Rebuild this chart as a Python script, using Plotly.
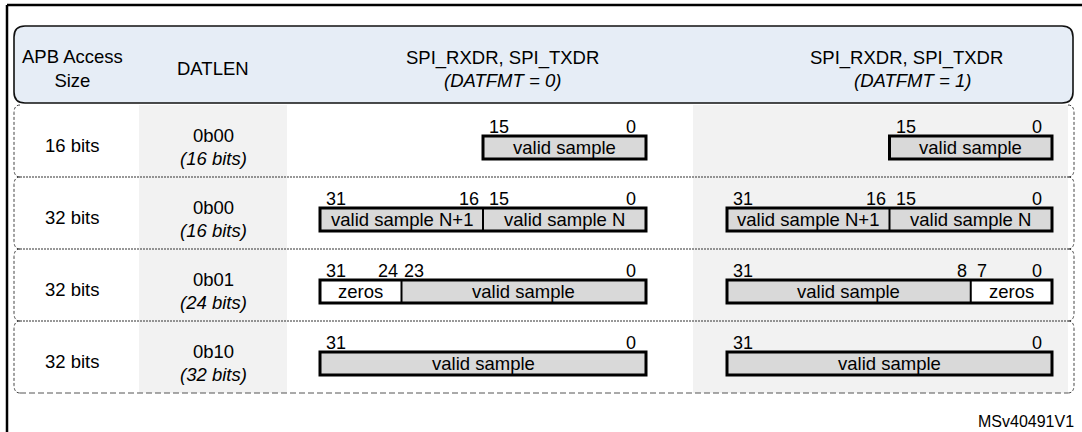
import plotly.graph_objects as go

# ---------------- data ----------------
access_sizes = ["16 bits", "32 bits", "32 bits", "32 bits"]
datlen_codes = ["0b00", "0b00", "0b01", "0b10"]
datlen_bits = ["(16 bits)", "(16 bits)", "(24 bits)", "(32 bits)"]

header_cols = ["APB Access<br>Size", "DATLEN"]
reg_title = "SPI_RXDR, SPI_TXDR"
fmt_titles = ["(DATFMT = 0)", "(DATFMT = 1)"]

# segments per row: (high bit, low bit, label)
fmt0_segments = [
    [(15, 0, "valid sample")],
    [(31, 16, "valid sample N+1"), (15, 0, "valid sample N")],
    [(31, 24, "zeros"), (23, 0, "valid sample")],
    [(31, 0, "valid sample")],
]
fmt1_segments = [
    [(15, 0, "valid sample")],
    [(31, 16, "valid sample N+1"), (15, 0, "valid sample N")],
    [(31, 8, "valid sample"), (7, 0, "zeros")],
    [(31, 0, "valid sample")],
]
doc_ref = "MSv40491V1"

# ---------------- layout constants ----------------
W, H = 1082, 432
FONT = "Liberation Sans, Arial, sans-serif"
FS = 18.5
row_top0, row_h = 105, 72
n_rows = len(access_sizes)
box_off, box_h = 31, 23
reg_cols = [(320, 646), (727, 1052)]
reg_centers = [502, 906]
col_access_x, col_datlen_x = 72, 213
fill_valid, fill_zero = "#D9D9D9", "#FFFFFF"
gray_bg = "#F2F2F2"
header_fill = "#E6EDF6"

fig = go.Figure()
shapes = []
ann = []


def text(x, y, s, size=FS, xanchor="center", yanchor="middle", align="center"):
    ann.append(dict(x=x, y=y, xref="x", yref="y", text=s, showarrow=False,
                    xanchor=xanchor, yanchor=yanchor, align=align,
                    font=dict(family=FONT, size=size, color="#000000")))


# outer frame (partial)
shapes.append(dict(type="line", x0=7, x1=W, y0=5, y1=5, line=dict(color="black", width=2.5)))
shapes.append(dict(type="line", x0=7, x1=7, y0=5, y1=H, line=dict(color="black", width=2.5)))

# gray column backgrounds
body_top = row_top0
body_bot = row_top0 + n_rows * row_h
shapes.append(dict(type="rect", x0=139, x1=287, y0=body_top, y1=body_bot,
                   fillcolor=gray_bg, line=dict(width=0), layer="below"))
shapes.append(dict(type="rect", x0=693, x1=1068, y0=body_top, y1=body_bot,
                   fillcolor=gray_bg, line=dict(width=0), layer="below"))

# header rounded box
hx0, hx1, hy0, hy1, r = 14, 1073, 26, 103, 11
hp = (f"M {hx0+r},{hy0} L {hx1-r},{hy0} Q {hx1},{hy0} {hx1},{hy0+r} "
      f"L {hx1},{hy1-r} Q {hx1},{hy1} {hx1-r},{hy1} L {hx0+r},{hy1} "
      f"Q {hx0},{hy1} {hx0},{hy1-r} L {hx0},{hy0+r} Q {hx0},{hy0} {hx0+r},{hy0} Z")
shapes.append(dict(type="path", path=hp, fillcolor=header_fill,
                   line=dict(color="#111111", width=1.6)))

text(col_access_x, 68, header_cols[0])
text(col_datlen_x, 68, header_cols[1])
for c in range(2):
    text(reg_centers[c], 58, reg_title)
    text(reg_centers[c] + (0 if c == 0 else 6), 80, "<i>" + fmt_titles[c] + "</i>")

# row outlines (dashed braces left/right, separators)
for i in range(n_rows):
    t = row_top0 + i * row_h
    b = t + row_h
    rr = 8
    lp = f"M 20,{t} Q 14,{t} 14,{t+rr} L 14,{b-rr} Q 14,{b} 20,{b}"
    rp = f"M 1068,{t} Q 1074,{t} 1074,{t+rr} L 1074,{b-rr} Q 1074,{b} 1068,{b}"
    for p in (lp, rp):
        shapes.append(dict(type="path", path=p, line=dict(color="#444444", width=1, dash="3px,2px")))
    if i < n_rows - 1:
        shapes.append(dict(type="line", x0=20, x1=1068, y0=b, y1=b,
                           line=dict(color="#333333", width=1.2, dash="2px,1px")))
    else:
        shapes.append(dict(type="line", x0=20, x1=1068, y0=b, y1=b,
                           line=dict(color="#555555", width=1, dash="6px,3px")))

# row content
for i in range(n_rows):
    t = row_top0 + i * row_h
    by0 = t + box_off
    by1 = by0 + box_h
    bc = (by0 + by1) / 2
    text(col_access_x, bc - 2, access_sizes[i])
    text(col_datlen_x, bc - 12, datlen_codes[i])
    text(col_datlen_x, bc + 11, "<i>" + datlen_bits[i] + "</i>")
    for c, segs in enumerate([fmt0_segments[i], fmt1_segments[i]]):
        cx0, cx1 = reg_cols[c]
        bw = (cx1 - cx0) / 32.0
        lefts, rights = [], []
        for hi, lo, lab in segs:
            sx0 = cx0 + (31 - hi) * bw
            sx1 = cx0 + (32 - lo) * bw
            lefts.append(sx0)
            rights.append(sx1)
            fill = fill_zero if lab == "zeros" else fill_valid
            shapes.append(dict(type="rect", x0=sx0, x1=sx1, y0=by0, y1=by1,
                               fillcolor=fill, line=dict(width=0)))
            text((sx0 + sx1) / 2, bc, lab)
            text(sx0 + (4 if hi in (31, 15, 7) else 0), by0 - 9, str(hi), size=18, xanchor="left")
            text(sx1 - (8 if lo == 0 else 2), by0 - 9, str(lo), size=18, xanchor="right")
        for sx in lefts[1:]:
            shapes.append(dict(type="line", x0=sx, x1=sx, y0=by0, y1=by1,
                               line=dict(color="black", width=2)))
        shapes.append(dict(type="rect", x0=min(lefts), x1=max(rights), y0=by0, y1=by1,
                           line=dict(color="black", width=3)))

text(1076, 421, doc_ref, size=16, xanchor="right")

fig.update_layout(
    width=W, height=H, margin=dict(l=0, r=0, t=0, b=0),
    paper_bgcolor="white", plot_bgcolor="white",
    xaxis=dict(range=[0, W], visible=False, fixedrange=True),
    yaxis=dict(range=[H, 0], visible=False, fixedrange=True),
    shapes=shapes, annotations=ann, showlegend=False,
)
fig.write_html("out.html", config={"displayModeBar": False},
               post_script="document.body.style.margin='0';document.body.style.overflow='hidden';")
